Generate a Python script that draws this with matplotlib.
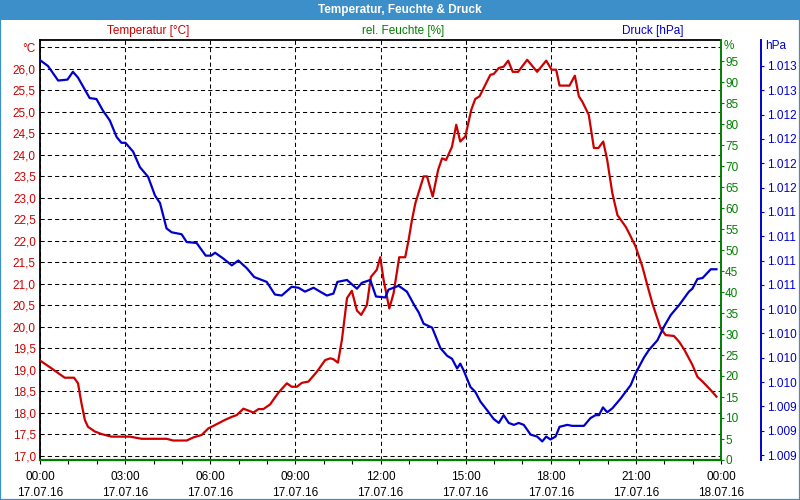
import matplotlib
matplotlib.use("Agg")
import matplotlib.pyplot as plt
from matplotlib.patches import Rectangle
from matplotlib.ticker import MultipleLocator

plt.rcParams["font.family"] = ["Liberation Sans", "DejaVu Sans"]
plt.rcParams["font.size"] = 8.5

RED = "#cc0000"
GREEN = "#008000"
BLUE = "#0000cc"
FRAME = "#3d8fc9"

# x axis: hours since 17.07.16 00:00
tick_hours = [0, 3, 6, 9, 12, 15, 18, 21, 24]
tick_times = ["00:00", "03:00", "06:00", "09:00", "12:00", "15:00", "18:00", "21:00", "00:00"]
tick_dates = ["17.07.16"] * 8 + ["18.07.16"]

# Temperatur [°C]
temp_hours = [0.0, 0.40, 0.87, 1.20, 1.34, 1.46, 1.58, 1.69, 1.93, 2.17, 2.52, 3.17, 3.58,
              4.46, 4.69, 5.17, 5.40, 5.70, 5.93, 6.17, 6.52, 6.76, 6.93, 7.17, 7.52, 7.70,
              7.87, 8.11, 8.40, 8.70, 8.87, 9.05, 9.23, 9.46, 9.76, 10.05, 10.23, 10.34,
              10.50, 10.64, 10.82, 10.99, 11.17, 11.32, 11.52, 11.66, 11.87, 11.99, 12.11,
              12.31, 12.46, 12.66, 12.87, 12.99, 13.11, 13.23, 13.52, 13.64, 13.84, 14.03,
              14.17, 14.31, 14.52, 14.67, 14.81, 14.99, 15.20, 15.34, 15.49, 15.87, 15.99,
              16.17, 16.34, 16.50, 16.66, 16.85, 17.17, 17.52, 17.84, 18.03, 18.19, 18.31,
              18.66, 18.85, 18.99, 19.11, 19.34, 19.52, 19.68, 19.85, 19.99, 20.17, 20.35,
              20.64, 20.76, 20.99, 21.23, 21.40, 21.58, 21.87, 22.05, 22.34, 22.52, 22.70,
              22.99, 23.17, 23.35, 23.64, 23.84]
temp_values = [19.22, 19.04, 18.82, 18.82, 18.69, 18.23, 17.84, 17.68, 17.57, 17.51, 17.45,
               17.45, 17.40, 17.40, 17.36, 17.36, 17.43, 17.49, 17.64, 17.72, 17.84, 17.91,
               17.95, 18.10, 18.01, 18.09, 18.09, 18.20, 18.47, 18.69, 18.61, 18.61, 18.70,
               18.73, 18.96, 19.23, 19.27, 19.25, 19.17, 19.70, 20.67, 20.84, 20.38, 20.28,
               20.51, 21.16, 21.33, 21.62, 21.09, 20.43, 20.78, 21.62, 21.62, 22.02, 22.49,
               22.88, 23.50, 23.50, 23.03, 23.65, 23.92, 23.88, 24.19, 24.70, 24.31, 24.43,
               25.05, 25.30, 25.36, 25.86, 25.88, 26.02, 26.05, 26.19, 25.93, 25.93, 26.21,
               25.93, 26.19, 25.98, 25.98, 25.61, 25.61, 25.84, 25.36, 25.24, 24.93, 24.16,
               24.16, 24.31, 23.88, 23.11, 22.60, 22.33, 22.18, 21.87, 21.40, 20.98, 20.55,
               19.97, 19.81, 19.79, 19.66, 19.48, 19.12, 18.84, 18.73, 18.53, 18.38]

# Druck [hPa]
pres_hours = [0.0, 0.28, 0.64, 0.97, 1.16, 1.34, 1.75, 1.99, 2.22, 2.46, 2.70, 2.87, 3.01,
              3.28, 3.52, 3.81, 4.05, 4.23, 4.46, 4.64, 4.99, 5.17, 5.52, 5.84, 6.03, 6.17,
              6.46, 6.76, 6.99, 7.29, 7.55, 7.99, 8.28, 8.52, 8.87, 9.11, 9.34, 9.64, 9.87,
              10.11, 10.34, 10.48, 10.82, 11.17, 11.34, 11.64, 11.84, 12.17, 12.28, 12.64,
              12.93, 13.23, 13.34, 13.52, 13.82, 14.11, 14.35, 14.52, 14.70, 14.81, 14.93,
              15.17, 15.34, 15.52, 15.76, 15.99, 16.17, 16.34, 16.52, 16.70, 16.87, 17.05,
              17.29, 17.52, 17.70, 17.84, 17.99, 18.17, 18.31, 18.58, 18.76, 19.17, 19.40,
              19.58, 19.70, 19.84, 19.99, 20.17, 20.46, 20.82, 20.99, 21.28, 21.46, 21.76,
              21.99, 22.23, 22.52, 22.87, 22.99, 23.17, 23.35, 23.64, 23.84]
pres_values = [1012.81, 1012.75, 1012.60, 1012.61, 1012.69, 1012.63, 1012.42, 1012.41,
               1012.29, 1012.19, 1012.02, 1011.96, 1011.96, 1011.87, 1011.71, 1011.61,
               1011.42, 1011.34, 1011.08, 1011.04, 1011.02, 1010.94, 1010.93, 1010.80,
               1010.80, 1010.83, 1010.77, 1010.70, 1010.75, 1010.67, 1010.58, 1010.53,
               1010.40, 1010.39, 1010.48, 1010.47, 1010.43, 1010.47, 1010.43, 1010.39,
               1010.41, 1010.53, 1010.55, 1010.46, 1010.52, 1010.55, 1010.38, 1010.37,
               1010.45, 1010.49, 1010.43, 1010.27, 1010.22, 1010.10, 1010.06, 1009.85,
               1009.77, 1009.74, 1009.64, 1009.69, 1009.62, 1009.45, 1009.40, 1009.30,
               1009.21, 1009.12, 1009.08, 1009.16, 1009.08, 1009.06, 1009.08, 1009.06,
               1008.96, 1008.94, 1008.89, 1008.94, 1008.91, 1008.94, 1009.04, 1009.06,
               1009.05, 1009.05, 1009.13, 1009.16, 1009.16, 1009.24, 1009.19, 1009.23,
               1009.33, 1009.47, 1009.59, 1009.75, 1009.83, 1009.93, 1010.07, 1010.19,
               1010.29, 1010.43, 1010.46, 1010.56, 1010.57, 1010.66, 1010.66]

# rel. Feuchte [%] (sensor delivered 0 all day)
hum_hours = [0, 24]
hum_values = [0, 0]

temp_ticks = [17.0, 17.5, 18.0, 18.5, 19.0, 19.5, 20.0, 20.5, 21.0, 21.5, 22.0, 22.5,
              23.0, 23.5, 24.0, 24.5, 25.0, 25.5, 26.0, 26.5]
temp_labels = [("%.1f" % v).replace(".", ",") for v in temp_ticks[:-1]] + ["°C"]
hum_ticks = list(range(0, 100, 5))
hum_labels = [str(v) for v in hum_ticks]
pres_ticks = [1008.75, 1009.0, 1009.25, 1009.5, 1009.75, 1010.0, 1010.25, 1010.5, 1010.75,
              1011.0, 1011.25, 1011.5, 1011.75, 1012.0, 1012.25, 1012.5, 1012.75]
pres_labels = ["1.009", "1.009", "1.009", "1.010", "1.010", "1.010", "1.010", "1.011",
               "1.011", "1.011", "1.011", "1.012", "1.012", "1.012", "1.012", "1.013", "1.013"]

fig = plt.figure(figsize=(8, 5), dpi=100)
fig.patches.append(Rectangle((0, 480 / 500), 1, 20 / 500, transform=fig.transFigure,
                             facecolor=FRAME, edgecolor="none", zorder=0))
fig.patches.append(Rectangle((0, 0), 1, 1, transform=fig.transFigure, fill=False,
                             edgecolor=FRAME, linewidth=1.6, zorder=0))
fig.text(0.5, 490 / 500, "Temperatur, Feuchte & Druck", color="white", fontweight="bold",
         fontsize=8.5, ha="center", va="center")

ax = fig.add_axes([40 / 800, 40 / 500, 681 / 800, 420 / 500])
ax.set_xlim(0, 24)
ax.set_ylim(16.907, 26.67)
ax.set_xticks(tick_hours)
ax.set_xticklabels([t + "\n" + d for t, d in zip(tick_times, tick_dates)], linespacing=1.45)
ax.xaxis.set_minor_locator(MultipleLocator(1))
ax.tick_params(axis="x", which="both", length=3, width=0.8, pad=5, colors="black")
ax.set_yticks(temp_ticks)
ax.set_yticklabels(temp_labels)
ax.tick_params(axis="y", length=0, pad=3, labelcolor=RED)
ax.grid(True, color="black", linestyle=(0, (4, 3)), linewidth=0.75)
for side in ("left", "top", "bottom"):
    ax.spines[side].set_linewidth(1.3)
    ax.spines[side].set_color("black")
ax.spines["right"].set_visible(False)
ax.plot(temp_hours, temp_values, color=RED, linewidth=1.6, zorder=3)

ax2 = ax.twinx()
ax2.set_ylim(0, 100)
ax2.set_yticks(hum_ticks)
ax2.set_yticklabels(hum_labels)
ax2.tick_params(axis="y", length=2.5, width=0.8, pad=0.5, colors=GREEN)
for side in ("left", "top", "bottom"):
    ax2.spines[side].set_visible(False)
ax2.spines["right"].set_color(GREEN)
ax2.spines["right"].set_linewidth(1.4)
ax2.plot(hum_hours, hum_values, color=GREEN, linewidth=1.6, clip_on=False, zorder=4)

ax3 = ax.twinx()
ax3.spines["right"].set_position(("axes", (761 - 40) / 681))
ax3.set_ylim(1008.699, 1013.017)
ax3.set_yticks(pres_ticks)
ax3.set_yticklabels(pres_labels)
ax3.tick_params(axis="y", length=2.5, width=0.8, pad=1.5, colors=BLUE)
for side in ("left", "top", "bottom"):
    ax3.spines[side].set_visible(False)
ax3.spines["right"].set_color(BLUE)
ax3.spines["right"].set_linewidth(1.4)
ax3.plot(pres_hours, pres_values, color=BLUE, linewidth=1.6, zorder=3)

fig.text(148 / 800, (500 - 31) / 500, "Temperatur [°C]", color=RED, ha="center", va="center")
fig.text(403 / 800, (500 - 31) / 500, "rel. Feuchte [%]", color=GREEN, ha="center", va="center")
fig.text(653 / 800, (500 - 31) / 500, "Druck [hPa]", color=BLUE, ha="center", va="center")
fig.text(724 / 800, (500 - 46) / 500, "%", color=GREEN, ha="left", va="center")
fig.text(765 / 800, (500 - 46) / 500, "hPa", color=BLUE, ha="left", va="center")

fig.savefig("out.png", dpi=100)
